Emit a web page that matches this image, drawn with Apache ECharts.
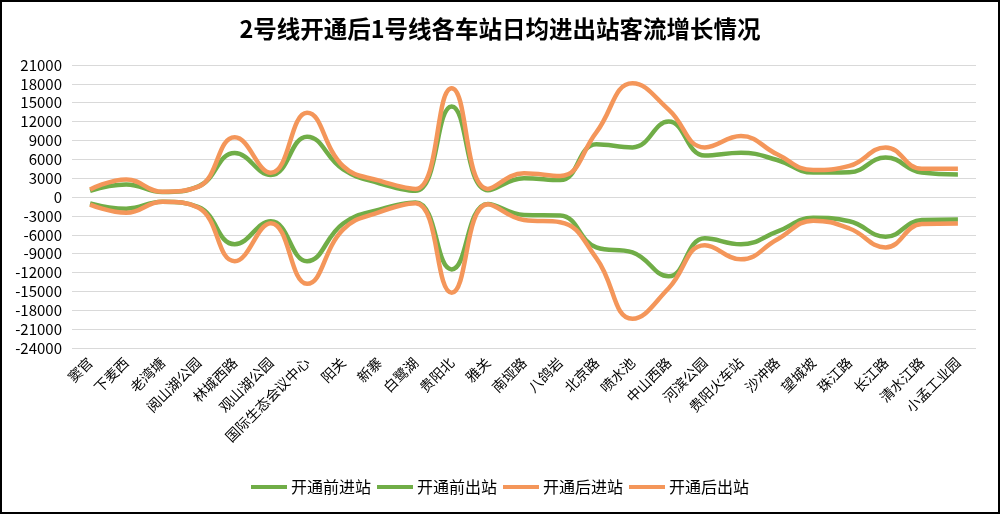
<!DOCTYPE html>
<html>
<head>
<meta charset="utf-8">
<script src="https://cdn.jsdelivr.net/npm/echarts@6/dist/echarts.min.js"></script>
<style>
    html, body { margin: 0; padding: 0; background: #fff; }
    #chart { width: 1000px; height: 514px; }
</style>
</head>
<body>
<div id="chart"></div>
<script>
var stations = ['窦官', '下麦西', '老湾塘', '阅山湖公园', '林城西路', '观山湖公园', '国际生态会议中心', '阳关', '新寨', '白鹭湖',
    '贵阳北', '雅关', '南垭路', '八鸽岩', '北京路', '喷水池', '中山西路', '河滨公园', '贵阳火车站', '沙冲路',
    '望城坡', '珠江路', '长江路', '清水江路', '小孟工业园'];

// 开通前 / 开通后, 进站为正, 出站为负
var beforeIn = [1000, 2000, 800, 1700, 7000, 3500, 9600, 4400, 2200, 1000,
    14400, 1100, 3000, 2700, 8400, 7900, 12000, 6600, 7050, 5900,
    3900, 3950, 6300, 3900, 3600];
var beforeOut = [-1000, -1850, -750, -1600, -7500, -3850, -10200, -4200, -2000, -850,
    -11500, -1100, -2850, -2950, -8000, -8800, -12600, -6550, -7500, -5500,
    -3300, -3850, -6300, -3650, -3550];
var afterIn = [1200, 2800, 850, 1650, 9500, 3850, 13400, 4900, 2600, 1300,
    17300, 1300, 3800, 3350, 10300, 18100, 13900, 7900, 9700, 6800,
    4300, 4950, 7900, 4500, 4500];
var afterOut = [-1200, -2500, -750, -1700, -10200, -4150, -13800, -5150, -2400, -1000,
    -15200, -1150, -3650, -4000, -9700, -19350, -14500, -7650, -9900, -6750,
    -3750, -5000, -8000, -4300, -4200];

var green = '#70AD47';
var orange = '#F4965A';

function lineSeries(name, data, color) {
    return {
        name: name,
        type: 'line',
        data: data,
        smooth: 0.45,
        symbol: 'none',
        lineStyle: { color: color, width: 4.5 },
        itemStyle: { color: color }
    };
}

var chart = echarts.init(document.getElementById('chart'));
chart.setOption({
    animation: false,
    textStyle: { fontFamily: '"Noto Sans CJK SC", "Noto Sans", sans-serif' },
    title: {
        text: '2号线开通后1号线各车站日均进出站客流增长情况',
        left: 'center',
        top: 12,
        textStyle: { fontSize: 23.5, fontWeight: 'bold', color: '#000' }
    },
    legend: {
        bottom: 14,
        left: 'center',
        icon: 'rect',
        itemWidth: 36,
        itemHeight: 4,
        itemGap: 6,
        textStyle: { fontSize: 16, color: '#000', padding: [0, 0, 0, -1] },
        data: ['开通前进站', '开通前出站', '开通后进站', '开通后出站']
    },
    grid: { left: 72, right: 24, top: 65, bottom: 166 },
    xAxis: {
        type: 'category',
        data: stations,
        boundaryGap: true,
        axisLine: { show: false },
        axisTick: { show: false },
        axisLabel: { rotate: 45, fontSize: 14, color: '#000', margin: 12, interval: 0 }
    },
    yAxis: {
        type: 'value',
        min: -24000,
        max: 21000,
        interval: 3000,
        axisLine: { show: false },
        axisTick: { show: false },
        axisLabel: {
            fontSize: 15,
            color: '#000',
            margin: 10,
            formatter: function (v) { return String(v); }
        },
        splitLine: { lineStyle: { color: '#d9d9d9', width: 1 } }
    },
    graphic: [{
        type: 'rect',
        shape: { x: 1, y: 1, width: 998, height: 512 },
        style: { fill: 'none', stroke: '#000', lineWidth: 2 },
        silent: true
    }],
    series: [
        lineSeries('开通前进站', beforeIn, green),
        lineSeries('开通前出站', beforeOut, green),
        lineSeries('开通后进站', afterIn, orange),
        lineSeries('开通后出站', afterOut, orange)
    ]
});
</script>
</body>
</html>
